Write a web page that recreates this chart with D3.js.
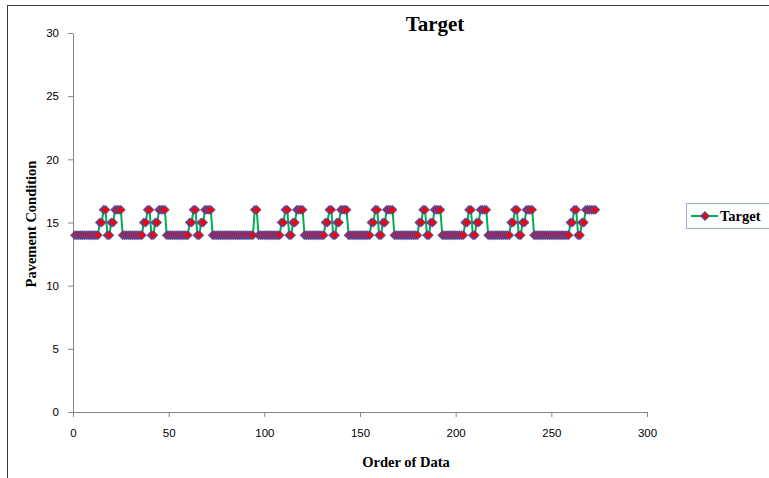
<!DOCTYPE html>
<html>
<head>
<meta charset="utf-8">
<script src="https://cdn.jsdelivr.net/npm/d3@7"></script>
<style>
  html, body { margin: 0; padding: 0; background: #fff; }
  svg { display: block; }
</style>
</head>
<body>
<script>
// Pavement condition target, listed in order of data (1..273)
const condition = [
  14,14,14,14,14,14,14,14,14,14,14,14,14,
  15,15,16,16,14,14,15,15,16,16,16,16,
  14,14,14,14,14,14,14,14,14,14,14,
  15,15,16,16,14,14,15,15,16,16,16,16,
  14,14,14,14,14,14,14,14,14,14,14,14,
  15,15,16,16,14,14,15,15,16,16,16,16,
  14,14,14,14,14,14,14,14,14,14,14,
  14,14,14,14,14,14,14,14,14,14,14,
  16,16,
  14,14,14,14,14,14,14,14,14,14,14,14,
  15,15,16,16,14,14,15,15,16,16,16,16,
  14,14,14,14,14,14,14,14,14,14,14,
  15,15,16,16,14,14,15,15,16,16,16,16,
  14,14,14,14,14,14,14,14,14,14,14,14,
  15,15,16,16,14,14,15,15,16,16,16,16,
  14,14,14,14,14,14,14,14,14,14,14,14,14,
  15,15,16,16,14,14,15,15,16,16,16,16,
  14,14,14,14,14,14,14,14,14,14,14,14,
  15,15,16,16,14,14,15,15,16,16,16,16,
  14,14,14,14,14,14,14,14,14,14,14,14,
  15,15,16,16,14,14,15,15,16,16,16,16,
  14,14,14,14,14,14,14,14,14,14,14,14,14,14,14,14,14,14,14,
  15,15,16,16,14,14,15,15,16,16,16,16,16,16
];
const xTicks = [0, 50, 100, 150, 200, 250, 300];
const yTicks = [0, 5, 10, 15, 20, 25, 30];
const seriesName = "Target";
const chartTitle = "Target";
const xTitle = "Order of Data";
const yTitle = "Pavement Condition";

const W = 769, H = 478;
const serif = "'Liberation Serif', 'Times New Roman', serif";
const sans = "'Liberation Sans', Arial, sans-serif";
const lineColor = "#00B050";
const markerFill = "#FF0000";
const markerStroke = "#4A4AA0";
const axisColor = "#868686";

const svg = d3.select("body").append("svg")
  .attr("width", W).attr("height", H);

// outer chart frame
svg.append("rect")
  .attr("x", 7.5).attr("y", 5.5)
  .attr("width", 900).attr("height", 600)
  .attr("fill", "#fff").attr("stroke", "#3a3a3a").attr("stroke-width", 1);

const x = d3.scaleLinear().domain([0, 300]).range([73, 647]);
const y = d3.scaleLinear().domain([0, 30]).range([412, 33]);

// axes
const gx = svg.append("g")
  .attr("transform", `translate(0,${y(0)})`)
  .call(d3.axisBottom(x).tickValues(xTicks).tickSize(5).tickSizeOuter(0).tickPadding(12));
const gy = svg.append("g")
  .attr("transform", `translate(${x(0)},0)`)
  .call(d3.axisLeft(y).tickValues(yTicks).tickSize(5).tickSizeOuter(0).tickPadding(9));

[gx, gy].forEach(g => {
  g.select(".domain").attr("stroke", axisColor).attr("stroke-width", 1);
  g.selectAll(".tick line").attr("stroke", axisColor);
  g.selectAll(".tick text")
    .attr("fill", "#000")
    .style("font-family", sans)
    .style("font-size", "11.5px");
});

const points = condition.map((v, i) => ({ order: i + 1, value: v }));

// series line
svg.append("path")
  .datum(points)
  .attr("fill", "none")
  .attr("stroke", lineColor)
  .attr("stroke-width", 2)
  .attr("d", d3.line().x(d => x(d.order)).y(d => y(d.value)));

// diamond markers
const diamond = d3.symbol().type(d3.symbolDiamond2).size(44);
svg.append("g")
  .selectAll("path")
  .data(points)
  .join("path")
  .attr("transform", d => `translate(${x(d.order)},${y(d.value)})`)
  .attr("d", diamond)
  .attr("fill", markerFill)
  .attr("stroke", markerStroke)
  .attr("stroke-opacity", 0.8)
  .attr("stroke-width", 1.2);

// titles
svg.append("text")
  .attr("x", 435).attr("y", 31)
  .attr("text-anchor", "middle")
  .style("font-family", serif).style("font-weight", "bold").style("font-size", "21px")
  .text(chartTitle);

svg.append("text")
  .attr("x", 406).attr("y", 467)
  .attr("text-anchor", "middle")
  .style("font-family", serif).style("font-weight", "bold").style("font-size", "14.5px")
  .text(xTitle);

svg.append("text")
  .attr("transform", `translate(36,224) rotate(-90)`)
  .attr("text-anchor", "middle")
  .style("font-family", serif).style("font-weight", "bold").style("font-size", "14.5px")
  .text(yTitle);

// legend
const lg = svg.append("g");
lg.append("rect")
  .attr("x", 686.5).attr("y", 203.5)
  .attr("width", 120).attr("height", 25)
  .attr("fill", "#fff").attr("stroke", "#9DB0D2").attr("stroke-width", 1);
lg.append("line")
  .attr("x1", 691).attr("x2", 718).attr("y1", 216).attr("y2", 216)
  .attr("stroke", lineColor).attr("stroke-width", 2);
lg.append("path")
  .attr("transform", "translate(705,216)")
  .attr("d", diamond)
  .attr("fill", markerFill)
  .attr("stroke", markerStroke)
  .attr("stroke-width", 1.2);
lg.append("text")
  .attr("x", 720).attr("y", 221)
  .style("font-family", serif).style("font-weight", "bold").style("font-size", "14.5px")
  .text(seriesName);
</script>
</body>
</html>
